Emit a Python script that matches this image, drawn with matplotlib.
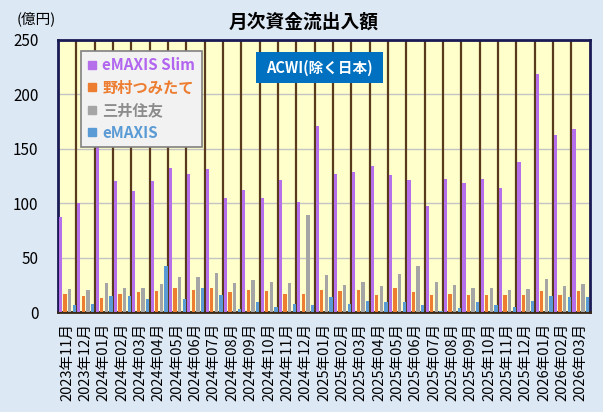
import numpy as np
import matplotlib
matplotlib.use('Agg')
import matplotlib.pyplot as plt
from matplotlib.lines import Line2D
from matplotlib.patches import Rectangle

plt.rcParams['font.family'] = ['Noto Sans CJK JP', 'DejaVu Sans']

# ---- data (億円) ----
months = ['2023年11月', '2023年12月', '2024年01月', '2024年02月', '2024年03月',
          '2024年04月', '2024年05月', '2024年06月', '2024年07月', '2024年08月',
          '2024年09月', '2024年10月', '2024年11月', '2024年12月', '2025年01月',
          '2025年02月', '2025年03月', '2025年04月', '2025年05月', '2025年06月',
          '2025年07月', '2025年08月', '2025年09月', '2025年10月', '2025年11月',
          '2025年12月', '2026年01月', '2026年02月', '2026年03月']
slim = [87, 100, 158, 120, 111, 120, 132, 127, 131, 105,
        112, 105, 121, 101, 171, 127, 129, 134, 126, 121,
        97, 122, 119, 122, 114, 138, 219, 163, 168]
nomura = [17, 15, 13, 17, 18, 19, 22, 20, 22, 18,
          20, 19, 17, 17, 20, 19, 20, 16, 22, 18,
          16, 17, 16, 16, 16, 16, 19, 16, 19]
mitsui = [21, 20, 27, 22, 22, 26, 32, 32, 36, 27,
          29, 28, 27, 89, 34, 25, 28, 24, 35, 42,
          28, 25, 22, 22, 20, 21, 30, 24, 26]
emaxis = [6, 7, 15, 15, 12, 42, 12, 22, 16, 3,
          9, 5, 7, 6, 14, 7, 10, 9, 9, 6,
          1, 4, 9, 6, 5, 10, 15, 14, 14]

series = [('eMAXIS Slim', slim, '#B56FEA', '#B266F0'),
          ('野村つみたて', nomura, '#ED7D31', '#ED7D31'),
          ('三井住友', mitsui, '#A5A5A5', '#8C8C8C'),
          ('eMAXIS', emaxis, '#5B9BD5', '#5B9BD5')]

fig = plt.figure(figsize=(6.03, 4.12), dpi=100, facecolor='#DDE8F5')
ax = fig.add_axes([0.0962, 0.2427, 0.8818, 0.6603])
ax.set_facecolor('#FFFFCC')

x = np.arange(len(months))
w = 0.18
for j, (name, vals, col, tcol) in enumerate(series):
    ax.bar(x + (j - 1.5) * 0.25 + 0.01, vals, width=w, color=col, zorder=3)

# category separators and value gridlines
ax.vlines(x[1:] - 0.5, 0, 250, color='#5A3A1C', lw=1.6, zorder=2)
for v in [50, 100, 150, 200]:
    ax.axhline(v, color='#C4C4C4', lw=1.0, zorder=1)

ax.set_xlim(-0.5, len(months) - 0.5)
ax.set_ylim(0, 250)
ax.set_yticks(range(0, 251, 50))
ax.tick_params(axis='y', length=0, pad=14, labelsize=11)
ax.set_xticks(x)
ax.set_xticklabels(months, rotation=90, fontsize=10.5)
ax.tick_params(axis='x', length=0, pad=8)
for s in ax.spines.values():
    s.set_color('#1A1A55')
    s.set_linewidth(2)
ax.spines['bottom'].set_color('#3A2A1A')

fig.text(0.503, 0.947, '月次資金流出入額', ha='center', va='center',
         fontsize=13.5, fontweight='bold')
fig.text(0.028, 0.955, '(億円)', ha='left', va='center', fontsize=10.5)

# ACWI box
ax.add_patch(Rectangle((0.3722, 0.842), 0.2387, 0.114, transform=ax.transAxes,
                       facecolor='#0070C0', edgecolor='none', zorder=5))
ax.text(0.4915, 0.899, 'ACWI(除く日本)', transform=ax.transAxes, ha='center',
        va='center', color='white', fontsize=10.5, fontweight='bold', zorder=6)

handles = [Line2D([], [], marker='s', linestyle='none', markersize=6, color=c)
           for _, _, c, _ in series]
leg = ax.legend(handles, [s[0] for s in series], loc='upper left',
                bbox_to_anchor=(0.0427, 0.9596), borderaxespad=0,
                prop={'weight': 'bold', 'size': 11},
                labelcolor=[s[3] for s in series], handlelength=0.6,
                handletextpad=0.4, labelspacing=0.42, borderpad=0.42,
                fancybox=False, edgecolor='#808080', facecolor='#F2F2F2',
                framealpha=1)
leg.set_zorder(7)
leg.get_frame().set_linewidth(1.2)

plt.savefig('out.png', dpi=100, facecolor=fig.get_facecolor())
